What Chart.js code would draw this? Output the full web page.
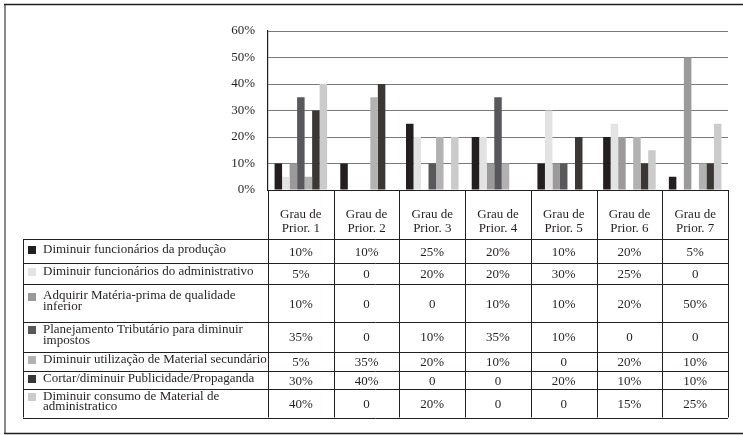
<!DOCTYPE html>
<html><head><meta charset="utf-8">
<script src="https://cdn.jsdelivr.net/npm/chart.js@4/dist/chart.umd.min.js"></script>
<style>html,body{margin:0;padding:0;background:#fff;}canvas{display:block;}</style>
</head><body>
<canvas id="c" width="743" height="435"></canvas>
<script>
const categories = ["Prior. 1","Prior. 2","Prior. 3","Prior. 4","Prior. 5","Prior. 6","Prior. 7"];
const headerPrefix = "Grau de";
const seriesNames = [
  ["Diminuir funcionários da produção"],
  ["Diminuir funcionários do administrativo"],
  ["Adquirir Matéria-prima de qualidade","inferior"],
  ["Planejamento Tributário para diminuir","impostos"],
  ["Diminuir utilização de Material secundário"],
  ["Cortar/diminuir Publicidade/Propaganda"],
  ["Diminuir consumo de Material de","administratico"]
];
const producao      = [10, 10, 25, 20, 10, 20, 5];
const administrativo= [5, 0, 20, 20, 30, 25, 0];
const materiaPrima  = [10, 0, 0, 10, 10, 20, 50];
const planejamento  = [35, 0, 10, 35, 10, 0, 0];
const matSecundario = [5, 35, 20, 10, 0, 20, 10];
const publicidade   = [30, 40, 0, 0, 20, 10, 10];
const consumoAdm    = [40, 0, 20, 0, 0, 15, 25];
const seriesValues = [producao, administrativo, materiaPrima, planejamento, matSecundario, publicidade, consumoAdm];
const seriesColors = ["#231f20","#e3e3e3","#9a9a9a","#58585a","#b2b2b2","#3b3736","#cbcbcb"];
const yTicks = [0,10,20,30,40,50,60];
const rowHeights = [23.5, 21.5, 37.5, 30, 19, 18.5, 28.5];

const FONT = '"Liberation Serif","Times New Roman",serif';
const INK = "#231f20";

const tablePlugin = {
  id: 'tablePlugin',
  afterDraw(chart) {
    const ctx = chart.ctx;
    const x = chart.scales.x, a = chart.chartArea;
    const n = categories.length;
    const cw = (a.right - a.left) / n;
    const edges = [];
    for (let i = 0; i < n; i++) edges.push(x.getPixelForValue(i) - cw / 2);
    edges.push(x.getPixelForValue(n - 1) + cw / 2);
    const tableLeft = 23, headerTop = a.bottom, tableTop = 239;
    const rowTops = [tableTop];
    rowHeights.forEach(h => rowTops.push(rowTops[rowTops.length - 1] + h));
    const tableBottom = rowTops[rowTops.length - 1];
    ctx.save();
    // outer border
    ctx.lineWidth = 2; ctx.strokeStyle = "#8a8a8a";
    ctx.beginPath(); ctx.moveTo(5, 4); ctx.lineTo(5, 434); ctx.stroke();
    ctx.lineWidth = 1.5; ctx.strokeStyle = INK;
    ctx.beginPath(); ctx.moveTo(4, 4.5); ctx.lineTo(743, 4.5); ctx.stroke();
    ctx.beginPath(); ctx.moveTo(4, 433.5); ctx.lineTo(743, 433.5); ctx.stroke();
    // x axis line
    ctx.lineWidth = 1.2; ctx.strokeStyle = INK;
    ctx.beginPath(); ctx.moveTo(a.left, Math.round(a.bottom) + 0.5); ctx.lineTo(a.right, Math.round(a.bottom) + 0.5); ctx.stroke();
    // table lines
    ctx.lineWidth = 1; ctx.strokeStyle = INK;
    ctx.beginPath();
    edges.forEach(e => { ctx.moveTo(Math.round(e) + 0.5, headerTop); ctx.lineTo(Math.round(e) + 0.5, tableBottom); });
    ctx.moveTo(tableLeft + 0.5, tableTop); ctx.lineTo(tableLeft + 0.5, tableBottom);
    rowTops.forEach(y => { ctx.moveTo(tableLeft, Math.round(y) + 0.5); ctx.lineTo(edges[n], Math.round(y) + 0.5); });
    ctx.stroke();
    // header
    ctx.fillStyle = INK; ctx.font = "13px " + FONT;
    ctx.textAlign = "center"; ctx.textBaseline = "middle";
    categories.forEach((c, i) => {
      const cx = (edges[i] + edges[i + 1]) / 2;
      ctx.fillText(headerPrefix, cx, 215);
      ctx.fillText(c, cx, 229);
    });
    // rows
    seriesNames.forEach((lines, r) => {
      const top = rowTops[r], bot = rowTops[r + 1];
      const mid = (top + bot) / 2;
      const lh = 10.5;
      const firstY = mid - 1.5 - (lines.length - 1) * lh / 2;
      ctx.fillStyle = seriesColors[r];
      ctx.fillRect(28, Math.round(firstY - 3.5), 8, 8);
      ctx.save();
      ctx.beginPath(); ctx.rect(tableLeft, top, edges[0] - tableLeft, bot - top); ctx.clip();
      ctx.fillStyle = INK; ctx.textAlign = "left";
      lines.forEach((t, k) => ctx.fillText(t, 43, firstY + k * lh));
      ctx.restore();
      ctx.fillStyle = INK; ctx.textAlign = "center";
      seriesValues[r].forEach((v, i) => {
        const cx = (edges[i] + edges[i + 1]) / 2;
        ctx.fillText(v === 0 ? "0" : v + "%", cx, mid + 1.5);
      });
    });
    ctx.restore();
  }
};

new Chart(document.getElementById('c'), {
  type: 'bar',
  data: {
    labels: categories,
    datasets: seriesNames.map((nm, i) => ({
      label: nm.join(' '),
      data: seriesValues[i],
      backgroundColor: seriesColors[i],
      borderWidth: 0,
      categoryPercentage: 0.8,
      barPercentage: 1.0
    }))
  },
  options: {
    responsive: false,
    devicePixelRatio: 1,
    animation: false,
    layout: { padding: { left: 0, right: 15, top: 31, bottom: 245 } },
    plugins: { legend: { display: false }, tooltip: { enabled: false } },
    scales: {
      x: { display: false, offset: true },
      y: {
        min: 0, max: 60,
        afterFit(scale) { scale.width = 268; },
        afterBuildTicks(scale) { scale.ticks = yTicks.map(v => ({ value: v })); },
        ticks: { padding: 13, color: INK, font: { family: FONT, size: 13 }, callback: v => v + '%' },
        grid: { color: "#7a7a7a", lineWidth: 1, drawTicks: false },
        border: { color: INK, width: 1.2 }
      }
    }
  },
  plugins: [tablePlugin]
});
</script>
</body></html>
